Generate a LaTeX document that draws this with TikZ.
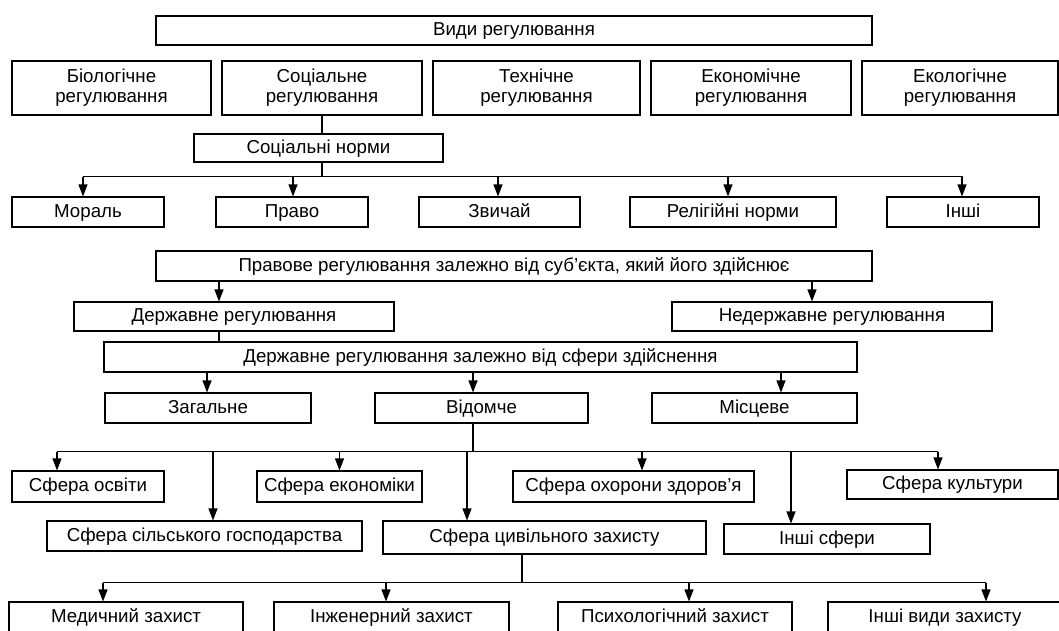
\documentclass[tikz,border=0pt]{standalone}
\usepackage{fontspec}
\setmainfont{Liberation Sans}
\usetikzlibrary{positioning}
\usetikzlibrary{arrows.meta}

\begin{document}
\begin{tikzpicture}[x=1pt,y=-1pt]

 \tikzset{reg box/.style={
 		draw,
 		line width=1.1pt,
 		minimum width=#1,
 		minimum height=30pt,
 		anchor=center,
 		align=center,
 		inner sep=0pt,
 		font=\fontsize{18.7}{20}\selectfont
 	},
 	reg box/.default=200pt,
 	one line/.style={reg box=#1, text height=13.5pt, text depth=3pt},
 	link/.style={draw, line width=1.1pt},
 	to box/.style={link, -{Triangle[length=12pt,width=9pt]}}
 }
 \useasboundingbox (0,0) rectangle (1059,630);
 \clip (0,0) rectangle (1059,630);

 \node[one line=716pt, minimum height=29pt] (vydy) at (514,30.5) {Види регулювання};

 \node[reg box=199pt, minimum height=54pt] (biol) at (111.5,88) {Біологічне\\регулювання};
 \node[reg box=200pt, minimum height=54pt] (soc) at (322,88) {Соціальне\\регулювання};
 \node[reg box=207pt, minimum height=54pt] (tekh) at (536.5,88) {Технічне\\регулювання};
 \node[reg box=200pt, minimum height=54pt] (ekon) at (751,88) {Економічне\\регулювання};
 \node[reg box=196pt, minimum height=54pt] (ekol) at (960,88) {Екологічне\\регулювання};

 \node[one line=249pt, minimum height=28pt] (socnorm) at (318.5,148) {Соціальні норми};

 \node[one line=152pt] (moral) at (88,212) {Мораль};
 \node[one line=152pt] (pravo) at (292,212) {Право};
 \node[one line=161pt] (zvychai) at (499.5,212) {Звичай};
 \node[one line=206pt] (relig) at (733,212) {Релігійні норми};
 \node[one line=152pt] (inshi) at (963,212) {Інші};

 \node[one line=716pt] (pravove) at (514,266) {Правове регулювання залежно від суб’єкта, який його здійснює};
 \node[one line=320pt, minimum height=29pt] (derzh) at (234,316.5) {Державне регулювання};
 \node[one line=320pt, minimum height=29pt] (nederzh) at (832,316.5) {Недержавне регулювання};
 \node[one line=753pt] (sfera) at (480.5,357) {Державне регулювання залежно від сфери здійснення};

 \node[one line=206pt] (zah) at (208,408) {Загальне};
 \node[one line=213pt] (vid) at (481.5,408) {Відомче};
 \node[one line=205pt] (mists) at (754.5,408) {Місцеве};

 \node[one line=152pt, minimum height=31pt] (osvita) at (88,486.5) {Сфера освіти};
 \node[one line=165pt, minimum height=31pt] (ekonom) at (339.5,486.5) {Сфера економіки};
 \node[one line=241pt, minimum height=31pt] (okhor) at (633.5,486.5) {Сфера охорони здоров’я};
 \node[one line=211pt, minimum height=29pt] (kult) at (952.5,484.5) {Сфера культури};
 \node[one line=315pt] (silsk) at (204.5,536) {Сфера сільського господарства};
 \node[one line=323pt, minimum height=33pt] (tsyvil) at (544.5,537.5) {Сфера цивільного захисту};
 \node[one line=206pt] (inshisf) at (827,539) {Інші сфери};

 \node[one line=234pt] (med) at (126,617) {Медичний захист};
 \node[one line=235pt] (inzh) at (391.5,617) {Інженерний захист};
 \node[one line=234pt] (psykh) at (675,617) {Психологічний захист};
 \node[one line=234pt] (inshiv) at (945,617) {Інші види захисту};

 % social norms
 \draw[link] (soc.south) -- (soc.south |- socnorm.north);
 \draw[link] (soc.south |- socnorm.south) -- ++(0,14) coordinate (nbus);
 \draw[link] ([xshift=-5pt]moral.north |- nbus) -- (inshi.north |- nbus);
 \foreach \n/\dx in {moral/-5,pravo/1,zvychai/-1.5,relig/-5,inshi/-1}
 	\draw[to box] ([xshift=\dx pt]\n.north |- nbus) -- ([xshift=\dx pt]\n.north);

 % legal regulation
 \draw[to box] ([xshift=-15pt]derzh.north |- pravove.south) -- ([xshift=-15pt]derzh.north);
 \draw[to box] ([xshift=-20pt]nederzh.north |- pravove.south) -- ([xshift=-20pt]nederzh.north);
 \draw[link] ([xshift=-15pt]derzh.south) -- ([xshift=-15pt]derzh.south |- sfera.north);
 \foreach \n/\dx in {zah/-1,vid/-8.5,mists/26.5}
 	\draw[to box] ([xshift=\dx pt]\n.north |- sfera.south) -- ([xshift=\dx pt]\n.north);

 % spheres
 \draw[link] ([xshift=-8.5pt]vid.south) -- ++(0,28) coordinate (sbus);
 \draw[link] ([xshift=-31pt]osvita.north |- sbus) -- ([xshift=-14.5pt]kult.north |- sbus);
 \foreach \n/\dx in {osvita/-31,silsk/8.5,ekonom/0,tsyvil/-77.5,okhor/8.5,inshisf/-36,kult/-14.5}
 	\draw[to box] ([xshift=\dx pt]\n.north |- sbus) -- ([xshift=\dx pt]\n.north);

 % civil protection
 \draw[link] ([xshift=-22.5pt]tsyvil.south) -- ++(0,28) coordinate (zbus);
 \draw[link] ([xshift=-23pt]med.north |- zbus) -- ([xshift=41pt]inshiv.north |- zbus);
 \foreach \n/\dx in {med/-23,inzh/-5.5,psykh/14,inshiv/41}
 	\draw[to box] ([xshift=\dx pt]\n.north |- zbus) -- ([xshift=\dx pt]\n.north);
\end{tikzpicture}
\end{document}
